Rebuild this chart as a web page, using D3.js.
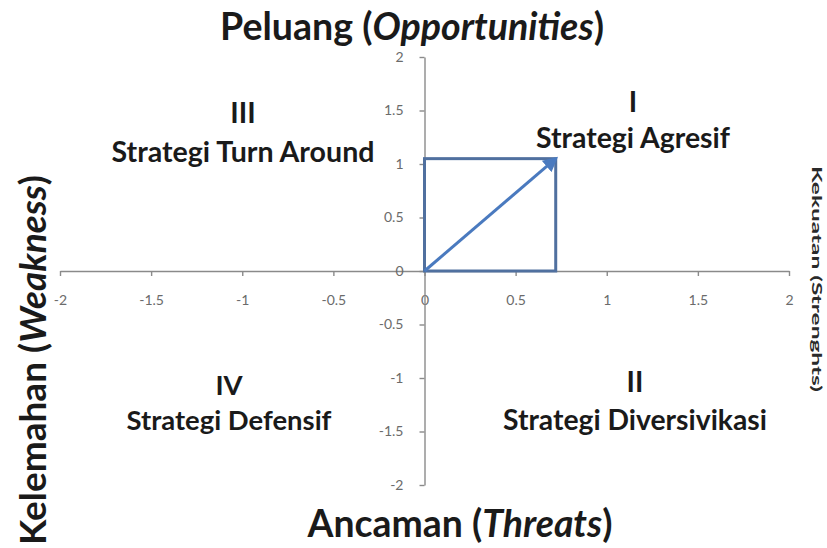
<!DOCTYPE html>
<html>
<head>
<meta charset="utf-8">
<script src="https://cdn.jsdelivr.net/npm/d3@7"></script>
<style>
  body { margin: 0; background: #fff; }
  svg { display: block; font-family: Lato, "Open Sans", sans-serif; }
  .axis path, .axis line { stroke: #8a8a8a; stroke-width: 1.4; }
  .axis text { fill: #6b6b6b; font-size: 14px; font-family: Lato, sans-serif; }
</style>
</head>
<body>
<svg id="chart" width="827" height="548"></svg>
<script>
// tick values on both axes
let xTicks = [-2, -1.5, -1, -0.5, 0, 0.5, 1, 1.5, 2];
let yTicks = [-2, -1.5, -1, -0.5, 0, 0.5, 1, 1.5, 2];

// position of the result (strength - weakness, opportunity - threat)
let pointX = [0.72];
let pointY = [1.05];

// quadrant numbers and strategy names: I, II, III, IV
let quadNumbers = ["I", "II", "III", "IV"];
let quadNames = ["Strategi Agresif", "Strategi Diversivikasi", "Strategi Turn Around", "Strategi Defensif"];

let svg = d3.select("#chart");

let x = d3.scaleLinear().domain([-2, 2]).range([60, 789]);
let y = d3.scaleLinear().domain([-2, 2]).range([485, 57]);

// make a text element fill a given width
function fitWidth(sel, w) {
    sel.each(function() {
        let t = d3.select(this);
        t.style("font-size", "100px");
        let len = this.getComputedTextLength();
        t.style("font-size", (100 * w / len) + "px");
    });
}

// axes crossing at 0
let xAxis = d3.axisBottom(x).tickValues(xTicks).tickSize(5).tickSizeOuter(0).tickPadding(19)
    .tickFormat(d => d);
let yAxis = d3.axisLeft(y).tickValues(yTicks).tickSize(5).tickSizeOuter(0).tickPadding(16)
    .tickFormat(d => d);

svg.append("g")
    .attr("class", "axis")
    .attr("transform", "translate(0," + y(0) + ")")
    .call(xAxis);

svg.append("g")
    .attr("class", "axis")
    .attr("transform", "translate(" + x(0) + ",0)")
    .call(yAxis);

// arrow head
svg.append("defs").append("marker")
    .attr("id", "head")
    .attr("viewBox", "0 0 10 10")
    .attr("refX", 8)
    .attr("refY", 5)
    .attr("markerWidth", 5)
    .attr("markerHeight", 5)
    .attr("markerUnits", "strokeWidth")
    .attr("orient", "auto")
    .append("path")
    .attr("d", "M0,0 L10,5 L0,10 Z")
    .attr("fill", "#4a7abf");

// box from origin to the point
svg.selectAll("rect.box")
    .data(pointX)
    .enter()
    .append("rect")
    .attr("class", "box")
    .attr("x", x(0))
    .attr("y", (d, i) => y(pointY[i]))
    .attr("width", d => x(d) - x(0))
    .attr("height", (d, i) => y(0) - y(pointY[i]))
    .attr("fill", "none")
    .attr("stroke", "#50709f")
    .attr("stroke-width", 3);

svg.selectAll("line.arrow")
    .data(pointX)
    .enter()
    .append("line")
    .attr("class", "arrow")
    .attr("x1", x(0))
    .attr("y1", y(0))
    .attr("x2", d => x(d))
    .attr("y2", (d, i) => y(pointY[i]))
    .attr("stroke", "#4a7abf")
    .attr("stroke-width", 3)
    .attr("marker-end", "url(#head)");

// quadrant labels
let quadLayout = [
    {cx: 633, numY: 112, nameY: 148, w: 194},
    {cx: 635, numY: 392, nameY: 430, w: 264},
    {cx: 243, numY: 123, nameY: 162, w: 263},
    {cx: 229, numY: 395, nameY: 430, w: 205}
];

let quads = svg.selectAll("g.quad")
    .data(quadNames)
    .enter()
    .append("g")
    .attr("class", "quad")
    .attr("font-weight", "bold")
    .attr("fill", "#1a1a1a")
    .attr("text-anchor", "middle");

quads.append("text")
    .attr("class", "name")
    .attr("x", (d, i) => quadLayout[i].cx)
    .attr("y", (d, i) => quadLayout[i].nameY)
    .text(d => d)
    .each(function(d, i) { fitWidth(d3.select(this), quadLayout[i].w); });

quads.append("text")
    .attr("x", (d, i) => quadLayout[i].cx)
    .attr("y", (d, i) => quadLayout[i].numY)
    .style("font-size", function(d, i) {
        return d3.select(this.parentNode).select("text.name").style("font-size");
    })
    .text((d, i) => quadNumbers[i]);

// axis titles
let titleTop = svg.append("text")
    .attr("x", 412).attr("y", 40)
    .attr("text-anchor", "middle")
    .attr("font-weight", "bold").attr("fill", "#1a1a1a");
titleTop.append("tspan").text("Peluang (");
titleTop.append("tspan").attr("font-style", "italic").text("Opportunities");
titleTop.append("tspan").text(")");
fitWidth(titleTop, 384);

let titleBottom = svg.append("text")
    .attr("x", 460).attr("y", 537)
    .attr("text-anchor", "middle")
    .attr("font-weight", "bold").attr("fill", "#1a1a1a");
titleBottom.append("tspan").text("Ancaman (");
titleBottom.append("tspan").attr("font-style", "italic").text("Threats");
titleBottom.append("tspan").text(")");
fitWidth(titleBottom, 305);

let titleLeft = svg.append("text")
    .attr("transform", "translate(46,360) rotate(-90)")
    .attr("text-anchor", "middle")
    .attr("font-weight", "bold").attr("fill", "#1a1a1a");
titleLeft.append("tspan").text("Kelemahan (");
titleLeft.append("tspan").attr("font-style", "italic").text("Weakness");
titleLeft.append("tspan").text(")");
fitWidth(titleLeft, 370);

svg.append("text")
    .attr("transform", "translate(812,279) rotate(90)")
    .attr("text-anchor", "middle")
    .attr("font-weight", "bold").attr("fill", "#2a2a2a")
    .style("font-size", "13px")
    .attr("textLength", 226)
    .attr("lengthAdjust", "spacingAndGlyphs")
    .text("Kekuatan (Strenghts)");
</script>
</body>
</html>
